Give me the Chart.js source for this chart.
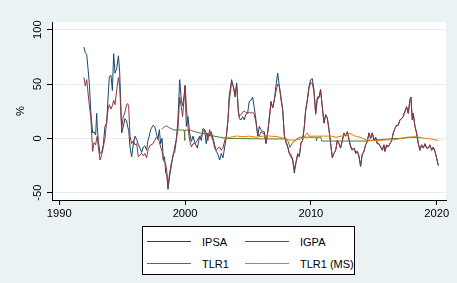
<!DOCTYPE html>
<html>
<head>
<meta charset="utf-8">
<script src="https://cdn.jsdelivr.net/npm/chart.js@4.4.1/dist/chart.umd.min.js"></script>
<style>
  body { margin: 0; background: #eaf2f3; }
  #wrap { position: relative; width: 457px; height: 283px; }
  #legend {
    position: absolute; left: 142px; top: 226px; width: 211px; height: 47px;
    background: #fff; border: 1px solid #000;
    font-family: "Liberation Sans", Arial, sans-serif; font-size: 11px; color: #000;
  }
  .item { position: absolute; height: 14px; line-height: 14px; }
  .item .ln { position: absolute; top: 6px; left: 0; width: 44px; height: 1.4px; }
  .item .tx { position: absolute; left: 55px; white-space: nowrap; }
</style>
</head>
<body>
<div id="wrap">
  <canvas id="myChart" width="457" height="283"></canvas>
  <div id="legend"></div>
</div>
<script>
// tick labels
const xTicks = [1990, 2000, 2010, 2020];
const yTicks = [-50, 0, 50, 100];

// stock index returns (IPSA, IGPA) - shared dates
const marketYears = [1991.96,1992.07,1992.18,1992.3,1992.39,1992.5,1992.65,1992.76,1992.89,1992.97,1993.02,1993.1,1993.24,1993.37,1993.5,1993.63,1993.77,1993.88,1993.98,1994.11,1994.22,1994.32,1994.43,1994.56,1994.7,1994.8,1994.96,1995.09,1995.22,1995.35,1995.45,1995.52,1995.62,1995.75,1995.89,1996.02,1996.15,1996.28,1996.42,1996.55,1996.68,1996.8,1996.94,1997.05,1997.15,1997.26,1997.45,1997.58,1997.71,1997.84,1997.95,1998.06,1998.17,1998.27,1998.37,1998.45,1998.56,1998.64,1998.77,1998.9,1999.04,1999.17,1999.3,1999.43,1999.57,1999.7,1999.8,1999.91,2000.0,2000.1,2000.23,2000.36,2000.5,2000.63,2000.77,2000.97,2001.16,2001.29,2001.42,2001.55,2001.68,2001.81,2001.95,2002.08,2002.22,2002.35,2002.48,2002.62,2002.75,2002.88,2003.01,2003.15,2003.28,2003.41,2003.5,2003.7,2003.84,2003.97,2004.1,2004.23,2004.31,2004.45,2004.57,2004.7,2004.83,2004.97,2005.1,2005.24,2005.37,2005.5,2005.63,2005.77,2005.9,2006.03,2006.16,2006.3,2006.43,2006.56,2006.7,2006.83,2006.96,2007.09,2007.22,2007.36,2007.49,2007.62,2007.76,2007.89,2008.02,2008.15,2008.28,2008.41,2008.55,2008.68,2008.81,2008.95,2009.08,2009.21,2009.34,2009.48,2009.58,2009.71,2009.85,2009.98,2010.11,2010.24,2010.38,2010.51,2010.64,2010.77,2010.91,2011.04,2011.17,2011.3,2011.44,2011.57,2011.7,2011.83,2011.97,2012.1,2012.23,2012.36,2012.5,2012.63,2012.76,2012.9,2013.03,2013.16,2013.29,2013.43,2013.56,2013.69,2013.82,2013.95,2014.08,2014.22,2014.35,2014.48,2014.62,2014.75,2014.88,2015.02,2015.15,2015.28,2015.41,2015.55,2015.68,2015.8,2015.89,2016.02,2016.15,2016.28,2016.42,2016.55,2016.68,2016.81,2016.94,2017.08,2017.21,2017.34,2017.48,2017.61,2017.74,2017.87,2017.95,2018.06,2018.14,2018.27,2018.4,2018.54,2018.67,2018.8,2018.94,2019.07,2019.2,2019.33,2019.46,2019.6,2019.73,2019.86,2019.99,2020.13];

const ipsa = [84,79,77,62,50,25,5,6,3,23,10,-2,-14,-13,-6,11,14,38,57,58,44,78,60,64,76,61,5,11,18,16,10,7,-8,-17,-5,2,-1,-6,-9,-13,-8,-7,-11,-2,2,8,12,11,5,-1,8,-5,0,-20,-17,-31,-35,-47,-35,-26,-15,-13,-2,17,54,35,30,38,48,11,20,5,-3,2,-4,-9,2,-2,9,8,-5,5,2,6,0,-6,-12,-15,-20,-14,-18,-8,2,17,38,54,47,38,51,26,18,17,20,17,22,23,34,35,38,28,17,2,11,8,6,6,-5,5,20,34,28,35,48,60,48,38,26,2,-4,-8,-14,-17,-20,-32,-23,-15,-17,-5,-2,11,26,35,48,54,55,45,23,38,38,45,29,14,22,19,8,-5,-18,-14,-11,-2,-5,-9,-2,5,2,6,-2,-8,-11,-9,-14,-12,-17,-26,-15,-12,-6,-3,5,0,5,-2,1,-5,-5,-8,-11,-6,-12,-6,-8,-5,-2,5,9,12,12,17,18,20,25,29,23,35,38,17,23,11,5,-5,-11,-6,-9,-5,-9,-9,-6,-11,-8,-12,-18,-25];

const igpa = [56,48,54,40,30,20,-12,-4,-6,0,2,-8,-20,-15,-8,0,16,27,31,27,30,35,31,44,56,48,9,20,24,31,32,28,2,-5,-2,-6,-5,-17,-15,-14,-16,-14,-18,-11,-8,-6,-5,-2,1,0,-3,-8,-12,-20,-22,-23,-32,-44,-32,-23,-17,-8,-1,8,38,29,20,35,49,29,11,-2,-8,-5,-5,-2,2,2,6,8,5,-2,8,2,-2,-9,-11,-9,-8,-11,-9,-2,2,17,33,52,48,40,49,25,20,22,24,25,24,23,24,23,24,22,15,4,2,6,5,4,-4,5,18,33,28,35,43,50,48,36,26,3,-3,-7,-13,-15,-19,-29,-22,-14,-16,-4,-2,11,25,34,46,51,51,43,22,36,37,44,28,14,21,19,8,-5,-17,-14,-11,-2,-5,-9,-2,4,2,6,-1,-7,-10,-9,-13,-12,-16,-25,-15,-12,-6,-3,5,0,5,-2,1,-5,-5,-8,-11,-6,-12,-6,-8,-5,-2,5,9,12,12,17,18,20,25,29,23,35,38,17,23,11,5,-5,-11,-6,-9,-5,-9,-9,-6,-11,-8,-12,-18,-25];

// TLR1
const tlr1Years = [1998.14,1998.3,1998.5,1998.7,1999.1,1999.5,1999.93,1999.96,1999.99,2000.4,2000.8,2001.3,2001.8,2002.3,2002.8,2003.2,2004.5,2006,2007.5,2008.0,2008.2,2008.34,2008.55,2008.9,2009.1,2009.8,2010.4,2010.45,2010.5,2010.8,2010.86,2012,2013,2014.4,2015.2,2016,2017.1,2018.1,2018.7];
const tlr1 = [8.5,10,11.6,10,7.7,7.7,7.5,-2,7.5,7.5,6,4.6,4,2,1,0,-0.2,-0.5,-0.6,-0.6,-3,-8.3,-4,-0.5,1,1,1,-2.5,1,1,-2.5,-2.5,-2.5,-2.5,-1.5,-0.8,0,0.9,0.5];

// TLR1 (MS)
const tlrMsYears = [2003.04,2003.3,2003.6,2004.1,2004.6,2005.1,2005.7,2006.2,2006.7,2007.3,2007.8,2008.3,2008.8,2009.4,2009.7,2009.85,2010.3,2011.0,2011.6,2012.0,2012.6,2013.1,2013.5,2013.9,2014.4,2015.2,2016.0,2016.8,2017.6,2018.4,2018.9,2019.6,2020.13];
const tlrMs = [0,0.5,1,2.1,1.5,2,1,2.1,2.1,1.5,0.3,-1.6,-1.6,0,5,2,2,2,2.1,1,2.5,4.6,2.1,1,-1.5,-2,-1.5,-1,1,1.5,0.3,-0.8,-2];

const names = ['IPSA', 'IGPA', 'TLR1', 'TLR1 (MS)'];
const colors = ['#1a476f', '#90353b', '#55752f', '#e37e00'];

function pts(xs, ys) {
  return xs.map((x, i) => ({x: x, y: ys[i]}));
}

const seriesData = [
  pts(marketYears, ipsa),
  pts(marketYears, igpa),
  pts(tlr1Years, tlr1),
  pts(tlrMsYears, tlrMs)
];

// white plot region
const plotBg = {
  id: 'plotBg',
  beforeDraw(chart) {
    const a = chart.chartArea;
    const ctx = chart.ctx;
    ctx.save();
    ctx.fillStyle = '#ffffff';
    ctx.fillRect(a.left, a.top, a.right - a.left, a.bottom - a.top);
    ctx.restore();
  }
};

const font = {family: '"Liberation Sans", Arial, sans-serif', size: 11.2};

const myChart = new Chart(document.getElementById('myChart'), {
  type: 'line',
  data: {
    datasets: seriesData.map((d, i) => ({
      label: names[i],
      data: d,
      borderColor: colors[i],
      borderWidth: 1,
      pointRadius: 0,
      tension: 0,
      fill: false,
      order: 3 - i   // later series drawn on top, like Stata
    }))
  },
  options: {
    responsive: false,
    animation: false,
    layout: {padding: {left: 0, top: 22, right: 11, bottom: 61}},
    plugins: {legend: {display: false}, tooltip: {enabled: false}},
    scales: {
      x: {
        type: 'linear',
        min: 1989.42,
        max: 2020.74,
        afterBuildTicks: s => { s.ticks = xTicks.map(v => ({value: v})); },
        afterFit: s => { s.height = 22; },
        grid: {drawOnChartArea: false, drawTicks: true, tickLength: 5, tickColor: '#000'},
        border: {color: '#000', width: 1},
        ticks: {color: '#000', font: font, padding: 2, maxRotation: 0, callback: v => String(v)}
      },
      y: {
        min: -56.8,
        max: 107.1,
        afterBuildTicks: s => { s.ticks = yTicks.map(v => ({value: v})); },
        afterFit: s => { s.width = 52; },
        grid: {color: '#e6eff0', lineWidth: 1, tickLength: 5, tickColor: '#000'},
        border: {color: '#000', width: 1},
        ticks: {color: '#000', font: font, padding: 0, minRotation: 90, maxRotation: 90, crossAlign: 'center'},
        title: {display: true, text: '%', color: '#000', font: font, padding: {top: 14, bottom: 0}}
      }
    }
  },
  plugins: [plotBg]
});

// legend box below the plot
const legendEl = document.getElementById('legend');
const spots = [[4, 8], [102, 8], [4, 30], [102, 30]];
names.forEach((n, i) => {
  const it = document.createElement('div');
  it.className = 'item';
  it.style.left = spots[i][0] + 'px';
  it.style.top = spots[i][1] + 'px';
  it.innerHTML = '<div class="ln" style="background:' + colors[i] + '"></div><div class="tx">' + n + '</div>';
  legendEl.appendChild(it);
});
</script>
</body>
</html>
